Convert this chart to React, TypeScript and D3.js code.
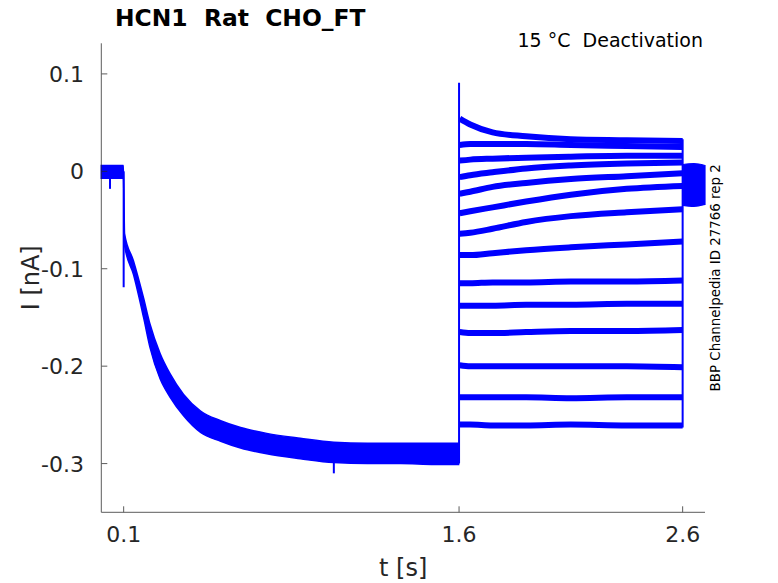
import * as d3 from 'd3';

// prepulse segment, every sweep on top of each other (band)
const preT = [0, 0.038, 0.099, 0.104, 0.144, 0.189, 0.218, 0.263, 0.308, 0.368, 0.444, 0.534, 0.623, 0.74, 0.89, 1.04, 1.19, 1.34, 1.49, 1.598];
const preUpper = [0.006, 0.006, 0.006, -0.064, -0.092, -0.13, -0.157, -0.187, -0.208, -0.229, -0.246, -0.256, -0.263, -0.269, -0.274, -0.278, -0.279, -0.279, -0.279, -0.279];
const preLower = [-0.007, -0.007, -0.007, -0.076, -0.106, -0.15, -0.181, -0.213, -0.232, -0.251, -0.268, -0.277, -0.284, -0.29, -0.295, -0.299, -0.3, -0.3, -0.301, -0.301];

// deactivation steps, one row per sweep
const stepT = [1.603, 1.65, 1.75, 1.9, 2.1, 2.35, 2.6];
const sweeps = [
  [0.054, 0.048, 0.04, 0.036, 0.033, 0.032, 0.031],
  [0.027, 0.028, 0.028, 0.028, 0.027, 0.026, 0.025],
  [0.011, 0.012, 0.013, 0.014, 0.015, 0.016, 0.016],
  [-0.006, -0.004, -0.001, 0.003, 0.006, 0.008, 0.009],
  [-0.023, -0.021, -0.016, -0.012, -0.008, -0.005, -0.002],
  [-0.043, -0.041, -0.037, -0.031, -0.024, -0.018, -0.015],
  [-0.064, -0.063, -0.059, -0.052, -0.046, -0.042, -0.039],
  [-0.086, -0.086, -0.084, -0.081, -0.078, -0.075, -0.072],
  [-0.115, -0.115, -0.114, -0.114, -0.113, -0.113, -0.112],
  [-0.138, -0.138, -0.138, -0.137, -0.137, -0.136, -0.136],
  [-0.165, -0.166, -0.166, -0.165, -0.164, -0.164, -0.163],
  [-0.199, -0.2, -0.2, -0.2, -0.2, -0.2, -0.201],
  [-0.232, -0.232, -0.232, -0.232, -0.233, -0.232, -0.232],
  [-0.26, -0.26, -0.261, -0.261, -0.26, -0.261, -0.261],
];

// tail after the step, all sweeps back at holding
const tailT = [2.602, 2.65, 2.7];
const tailUpper = [0.007, 0.008, 0.006];
const tailLower = [-0.035, -0.036, -0.034];

// single glitches / capacitive spikes [t, from, to]
const spikes: [number, number, number][] = [
  [0.039, 0, -0.018],
  [0.1, 0, -0.119],
  [1.04, -0.29, -0.31],
  [1.6, -0.3, 0.091],
  [2.6, 0.033, -0.263],
];

const xTicks = [0.1, 1.6, 2.6];
const yTicks = [0.1, 0, -0.1, -0.2, -0.3];

const W = 778;
const H = 583;
const BLUE = '#0000ff';
const AX = '#262626';
const FONT = '"DejaVu Sans", sans-serif';

export default function App() {
  const x = d3.scaleLinear().domain([0, 2.7]).range([101.3, 705]);
  const y = d3.scaleLinear().domain([-0.35, 0.1314]).range([512.3, 43.3]);

  const band = d3
    .area<number>()
    .x((_, i) => x(preT[i]))
    .y0((d) => y(d))
    .y1((_, i) => y(preUpper[i]))
    .curve(d3.curveMonotoneX);

  const tail = d3
    .area<number>()
    .x((_, i) => x(tailT[i]))
    .y0((d) => y(d))
    .y1((_, i) => y(tailUpper[i]))
    .curve(d3.curveMonotoneX);

  const line = d3
    .line<number>()
    .x((_, i) => x(stepT[i]))
    .y((d) => y(d))
    .curve(d3.curveMonotoneX);

  const [x0, x1] = x.range();
  const [yb, yt] = y.range();

  return (
    <svg
      width={W}
      height={H}
      style={{ position: 'absolute', left: 0, top: 0, display: 'block' }}
      fontFamily={FONT}
    >
      <rect width={W} height={H} fill='#fff' />

      {/* traces */}
      <path d={band(preLower) ?? ''} fill={BLUE} stroke={BLUE} strokeWidth={1.5} />
      <path d={tail(tailLower) ?? ''} fill={BLUE} stroke={BLUE} strokeWidth={1.2} />
      {sweeps.map((s, i) => (
        <path
          key={i}
          d={line(s) ?? ''}
          fill='none'
          stroke={BLUE}
          strokeWidth={6}
          strokeLinejoin='round'
        />
      ))}
      {spikes.map(([t, a, b], i) => (
        <line key={i} x1={x(t)} x2={x(t)} y1={y(a)} y2={y(b)} stroke={BLUE} strokeWidth={2} />
      ))}

      {/* axes */}
      <g stroke={AX} strokeWidth={1} opacity={0.75}>
        <line x1={x0} x2={x0} y1={yb} y2={yt} />
        <line x1={x0} x2={x1} y1={yb} y2={yb} />
        {xTicks.map((t) => (
          <line key={t} x1={x(t)} x2={x(t)} y1={yb} y2={yb - 6} />
        ))}
        {yTicks.map((t) => (
          <line key={t} x1={x0} x2={x0 + 6} y1={y(t)} y2={y(t)} />
        ))}
      </g>
      <g fill={AX} fontSize={22}>
        {xTicks.map((t) => (
          <text key={t} x={x(t)} y={542} textAnchor='middle'>
            {t}
          </text>
        ))}
        {yTicks.map((t) => (
          <text key={t} x={84} y={y(t)} dy='0.36em' textAnchor='end'>
            {t}
          </text>
        ))}
      </g>
      <text x={(x0 + x1) / 2} y={576} textAnchor='middle' fontSize={24} fill={AX}>
        t [s]
      </text>
      <text
        transform={`translate(39,${(yb + yt) / 2}) rotate(-90)`}
        textAnchor='middle'
        fontSize={24}
        fill={AX}
      >
        I [nA]
      </text>

      {/* annotations */}
      <text x={115} y={26} fontSize={23.4} fontWeight='bold' fill='#000' style={{ whiteSpace: 'pre' }}>
        {'HCN1  Rat  CHO_FT'}
      </text>
      <text x={703} y={47} fontSize={19} textAnchor='end' fill='#000' style={{ whiteSpace: 'pre' }}>
        {'15 °C  Deactivation'}
      </text>
      <text
        transform={`translate(720,${(yb + yt) / 2}) rotate(-90)`}
        textAnchor='middle'
        fontSize={13.4}
        fill='#000'
      >
        BBP Channelpedia ID 27766 rep 2
      </text>
    </svg>
  );
}
